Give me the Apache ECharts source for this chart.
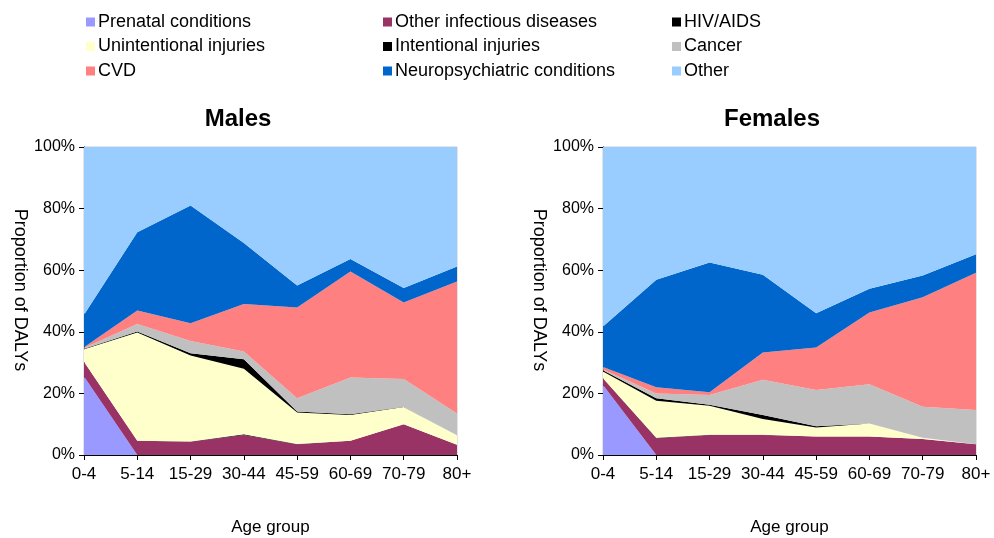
<!DOCTYPE html>
<html>
<head>
<meta charset="utf-8">
<script src="https://cdn.jsdelivr.net/npm/echarts@6/dist/echarts.min.js"></script>
<style>
  html, body { margin: 0; padding: 0; background: #fff; }
  #chart { width: 994px; height: 538px; }
</style>
</head>
<body>
<div id="chart"></div>
<script>
// age groups on the x axis
const ageGroups = ['0-4', '5-14', '15-29', '30-44', '45-59', '60-69', '70-79', '80+'];
const yTicks = [0, 20, 40, 60, 80, 100];

const causes = ['Prenatal conditions', 'Other infectious diseases', 'HIV/AIDS',
  'Unintentional injuries', 'Intentional injuries', 'Cancer', 'CVD',
  'Neuropsychiatric conditions', 'Other'];
const causeColors = ['#9999ff', '#993366', '#000000', '#ffffcc', '#000000',
  '#c0c0c0', '#ff8080', '#0066cc', '#99ccff'];

// males, share of DALYs (%) per cause
const malePrenatal   = [25.5, 0, 0, 0, 0, 0, 0, 0];
const maleInfectious = [4.8, 4.6, 4.3, 6.5, 3.5, 4.6, 10.0, 3.3];
const maleHiv        = [0, 0, 0.1, 0.2, 0.1, 0, 0, 0];
const maleUnint      = [4.0, 35.2, 27.9, 21.3, 10.2, 8.4, 5.6, 3.0];
const maleIntent     = [0.2, 0.3, 0.7, 3.1, 0.3, 0.2, 0.1, 0.1];
const maleCancer     = [0.2, 2.4, 4.0, 2.5, 4.3, 12.0, 9.0, 7.1];
const maleCvd        = [0.3, 4.4, 5.8, 15.4, 29.5, 34.4, 24.8, 42.8];
const maleNeuro      = [10.5, 25.4, 38.2, 19.8, 7.1, 4.0, 4.7, 4.9];
const maleOther      = [54.5, 27.7, 19.0, 31.2, 45.0, 36.4, 45.8, 38.8];

// females
const femalePrenatal   = [22.7, 0, 0, 0, 0, 0, 0, 0];
const femaleInfectious = [2.2, 5.4, 6.5, 6.5, 6.0, 6.0, 5.2, 3.5];
const femaleHiv        = [0, 0.2, 0.1, 0.1, 0, 0, 0, 0];
const femaleUnint      = [2.2, 12.0, 9.4, 5.1, 2.9, 4.2, 0.4, 0];
const femaleIntent     = [0.4, 0.8, 0.3, 1.3, 0.4, 0, 0, 0];
const femaleCancer     = [0.3, 1.6, 3.2, 11.4, 11.8, 12.8, 10.1, 11.1];
const femaleCvd        = [0.8, 2.0, 0.9, 8.9, 13.8, 23.3, 35.5, 44.6];
const femaleNeuro      = [13.1, 34.9, 42.1, 25.2, 11.1, 7.7, 7.1, 6.0];
const femaleOther      = [58.3, 43.1, 37.5, 41.5, 54.0, 46.0, 41.7, 34.8];

const maleData = [malePrenatal, maleInfectious, maleHiv, maleUnint, maleIntent,
  maleCancer, maleCvd, maleNeuro, maleOther];
const femaleData = [femalePrenatal, femaleInfectious, femaleHiv, femaleUnint, femaleIntent,
  femaleCancer, femaleCvd, femaleNeuro, femaleOther];

const font = 'Liberation Sans, Arial, sans-serif';

function makeSeries(data, idx, stack) {
  return causes.map((name, i) => ({
    name: name,
    type: 'line',
    stack: stack,
    xAxisIndex: idx,
    yAxisIndex: idx,
    symbol: 'none',
    silent: true,
    lineStyle: { width: 0 },
    itemStyle: { color: causeColors[i] },
    areaStyle: { color: causeColors[i], opacity: 1 },
    data: data[i]
  }));
}

function legendCol(left, names) {
  return {
    orient: 'vertical', left: left, top: 8,
    itemWidth: 9, itemHeight: 9, itemGap: 6.5,
    icon: 'rect',
    textStyle: { fontFamily: font, fontSize: 18, color: '#000', padding: [0, 0, 0, -2] },
    data: names
  };
}

const xAxisBase = {
  type: 'category', data: ageGroups, boundaryGap: false,
  name: 'Age group', nameLocation: 'middle', nameGap: 64,
  nameTextStyle: { fontFamily: font, fontSize: 17, color: '#000' },
  axisLine: { lineStyle: { color: '#000', width: 1 } },
  axisTick: { alignWithLabel: true, length: 5, lineStyle: { color: '#000' } },
  axisLabel: { fontFamily: font, fontSize: 17, color: '#000', margin: 11, interval: 0 },
  splitLine: { show: false }
};
const yAxisBase = {
  type: 'value', min: yTicks[0], max: yTicks[yTicks.length - 1], interval: 20,
  name: 'Proportion of DALYs', nameLocation: 'middle', nameGap: 55, nameRotate: -90,
  nameTextStyle: { fontFamily: font, fontSize: 18, color: '#000', padding: [0, 22, 0, 0] },
  axisLine: { show: true, lineStyle: { color: '#000', width: 1 } },
  axisTick: { show: true, length: 5, lineStyle: { color: '#000' } },
  axisLabel: { fontFamily: font, fontSize: 16, color: '#000', formatter: '{value}%', margin: 9 },
  splitLine: { show: false }
};

const chart = echarts.init(document.getElementById('chart'));
chart.setOption({
  animation: false,
  backgroundColor: '#fff',
  title: [
    { text: 'Males', left: 233, top: 102, textAlign: 'center',
      textStyle: { fontFamily: font, fontSize: 24, fontWeight: 'bold', color: '#000' } },
    { text: 'Females', left: 767, top: 102, textAlign: 'center',
      textStyle: { fontFamily: font, fontSize: 24, fontWeight: 'bold', color: '#000' } }
  ],
  legend: [
    legendCol(81, [causes[0], causes[3], causes[6]]),
    legendCol(378, [causes[1], causes[4], causes[7]]),
    legendCol(667, [causes[2], causes[5], causes[8]])
  ],
  grid: [
    { left: 84, top: 147, width: 373, height: 308, outerBoundsMode: 'none',
      show: true, borderColor: '#c8c8c8', borderWidth: 1 },
    { left: 603, top: 147, width: 373, height: 308, outerBoundsMode: 'none',
      show: true, borderColor: '#c8c8c8', borderWidth: 1 }
  ],
  xAxis: [
    Object.assign({}, xAxisBase, { gridIndex: 0 }),
    Object.assign({}, xAxisBase, { gridIndex: 1 })
  ],
  yAxis: [
    Object.assign({}, yAxisBase, { gridIndex: 0 }),
    Object.assign({}, yAxisBase, { gridIndex: 1 })
  ],
  series: makeSeries(maleData, 0, 'males').concat(makeSeries(femaleData, 1, 'females'))
});
</script>
</body>
</html>
